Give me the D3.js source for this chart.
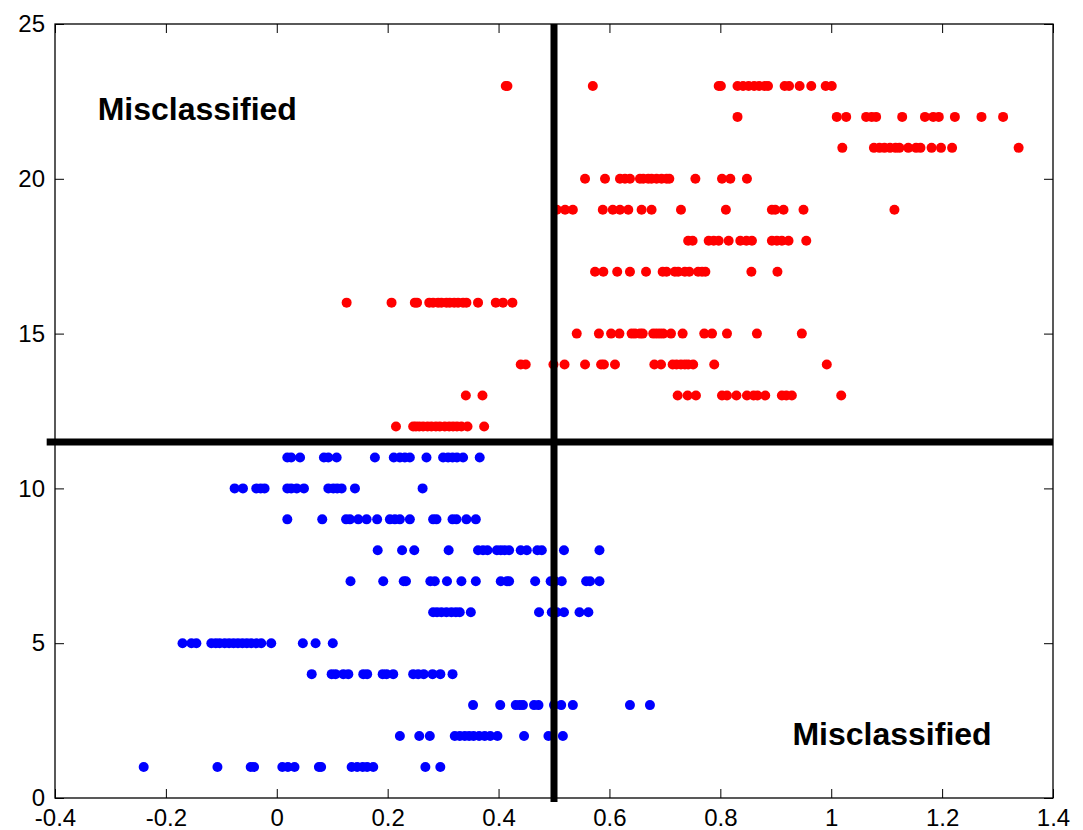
<!DOCTYPE html>
<html>
<head>
<meta charset="utf-8">
<script src="https://cdn.jsdelivr.net/npm/d3@7"></script>
<style>
  html, body { margin: 0; padding: 0; background: #fff; }
  svg { display: block; }
  text { font-family: "Liberation Sans", Arial, sans-serif; }
</style>
</head>
<body>
<svg id="chart" width="1083" height="830"></svg>
<script>
// Class labels (row index on the y axis) and the scores along x for each row
const redLevels = [12, 13, 14, 15, 16, 17, 18, 19, 20, 21, 22, 23];
const redScores = [
  [0.215, 0.246, 0.251, 0.257, 0.264, 0.272, 0.279, 0.287, 0.294, 0.303, 0.311, 0.318, 0.325, 0.333, 0.344, 0.374],
  [0.341, 0.371, 0.723, 0.741, 0.756, 0.803, 0.812, 0.829, 0.848, 0.860, 0.867, 0.881, 0.911, 0.919, 0.929, 1.018],
  [0.440, 0.449, 0.499, 0.519, 0.556, 0.585, 0.590, 0.610, 0.681, 0.693, 0.714, 0.721, 0.729, 0.736, 0.742, 0.751, 0.789, 0.992],
  [0.541, 0.581, 0.603, 0.618, 0.640, 0.646, 0.655, 0.660, 0.679, 0.685, 0.691, 0.697, 0.711, 0.732, 0.771, 0.785, 0.812, 0.866, 0.947],
  [0.126, 0.207, 0.249, 0.253, 0.275, 0.282, 0.291, 0.297, 0.306, 0.312, 0.320, 0.327, 0.336, 0.342, 0.363, 0.395, 0.408, 0.425],
  [0.574, 0.589, 0.614, 0.637, 0.666, 0.696, 0.703, 0.718, 0.724, 0.736, 0.744, 0.760, 0.767, 0.773, 0.856, 0.903],
  [0.742, 0.750, 0.779, 0.788, 0.797, 0.815, 0.836, 0.847, 0.857, 0.893, 0.902, 0.911, 0.923, 0.955],
  [0.505, 0.520, 0.534, 0.588, 0.606, 0.619, 0.634, 0.658, 0.676, 0.729, 0.810, 0.893, 0.899, 0.914, 0.950, 1.114],
  [0.556, 0.592, 0.619, 0.628, 0.637, 0.655, 0.661, 0.670, 0.676, 0.685, 0.694, 0.703, 0.708, 0.755, 0.803, 0.818, 0.848],
  [1.020, 1.077, 1.087, 1.096, 1.106, 1.116, 1.123, 1.139, 1.153, 1.161, 1.181, 1.198, 1.218, 1.338],
  [0.831, 1.010, 1.027, 1.063, 1.073, 1.081, 1.128, 1.169, 1.184, 1.194, 1.223, 1.271, 1.310],
  [0.413, 0.416, 0.570, 0.797, 0.801, 0.831, 0.841, 0.851, 0.861, 0.870, 0.880, 0.886, 0.916, 0.924, 0.943, 0.964, 0.990, 1.001]
];

const blueLevels = [1, 2, 3, 4, 5, 6, 7, 8, 9, 10, 11];
const blueScores = [
  [-0.240, -0.107, -0.047, -0.041, 0.010, 0.020, 0.032, 0.076, 0.080, 0.135, 0.145, 0.155, 0.163, 0.174, 0.268, 0.295],
  [0.222, 0.257, 0.276, 0.321, 0.330, 0.339, 0.347, 0.355, 0.365, 0.375, 0.385, 0.398, 0.446, 0.490, 0.516],
  [0.354, 0.403, 0.431, 0.438, 0.444, 0.464, 0.472, 0.500, 0.513, 0.534, 0.637, 0.673],
  [0.063, 0.099, 0.106, 0.120, 0.129, 0.156, 0.163, 0.191, 0.198, 0.210, 0.246, 0.255, 0.265, 0.281, 0.295, 0.317],
  [-0.170, -0.154, -0.145, -0.118, -0.110, -0.103, -0.094, -0.086, -0.078, -0.070, -0.062, -0.054, -0.046, -0.037, -0.028, -0.010, 0.047, 0.070, 0.101],
  [0.282, 0.289, 0.297, 0.306, 0.315, 0.323, 0.330, 0.350, 0.473, 0.496, 0.505, 0.518, 0.546, 0.562],
  [0.133, 0.192, 0.229, 0.233, 0.277, 0.285, 0.307, 0.333, 0.359, 0.404, 0.415, 0.419, 0.466, 0.494, 0.502, 0.514, 0.558, 0.565, 0.582],
  [0.182, 0.226, 0.248, 0.310, 0.363, 0.372, 0.380, 0.397, 0.404, 0.411, 0.419, 0.440, 0.451, 0.470, 0.478, 0.518, 0.582],
  [0.019, 0.082, 0.125, 0.132, 0.147, 0.162, 0.181, 0.204, 0.213, 0.222, 0.240, 0.282, 0.288, 0.317, 0.324, 0.342, 0.359],
  [-0.076, -0.061, -0.037, -0.029, -0.022, 0.019, 0.026, 0.036, 0.049, 0.093, 0.102, 0.109, 0.117, 0.141, 0.263],
  [0.019, 0.026, 0.042, 0.085, 0.093, 0.108, 0.177, 0.211, 0.222, 0.231, 0.240, 0.270, 0.300, 0.309, 0.317, 0.325, 0.336, 0.366]
];

// Decision boundaries
const scoreThreshold = 0.5;
const classThreshold = 11.5;

// Axis ticks
const xTicks = [-0.4, -0.2, 0, 0.2, 0.4, 0.6, 0.8, 1, 1.2, 1.4];
const yTicks = [0, 5, 10, 15, 20, 25];

// Region annotations: [x, y, label]
const annotations = [
  [-0.323, 21.9, "Misclassified"],
  [0.93, 1.7, "Misclassified"]
];

const xDomain = [-0.4, 1.4];
const yDomain = [0, 25];

const margin = { left: 55, right: 30, top: 24, bottom: 32 };
const width = 1083, height = 830;

const svg = d3.select("#chart");
svg.append("rect").attr("width", width).attr("height", height).attr("fill", "#fff");

const x = d3.scaleLinear().domain(xDomain).range([margin.left, width - margin.right]);
const y = d3.scaleLinear().domain(yDomain).range([height - margin.bottom, margin.top]);

const toPoints = (levels, scores) =>
  levels.flatMap((lv, i) => scores[i].map(s => ({ x: s, y: lv })));

const markerR = 5;

// scatter markers
svg.append("g").selectAll("circle")
  .data(toPoints(redLevels, redScores))
  .join("circle")
  .attr("cx", d => x(d.x)).attr("cy", d => y(d.y)).attr("r", markerR)
  .attr("fill", "#ff0000");

svg.append("g").selectAll("circle")
  .data(toPoints(blueLevels, blueScores))
  .join("circle")
  .attr("cx", d => x(d.x)).attr("cy", d => y(d.y)).attr("r", markerR)
  .attr("fill", "#0000ff");

// axes with inward ticks on all four sides
const tickLen = 9;
const fmtX = d => (d === 0 ? "0" : String(+d.toFixed(1)));

const xAxisB = d3.axisBottom(x).tickValues(xTicks).tickFormat(fmtX)
  .tickSizeInner(-tickLen).tickSizeOuter(0).tickPadding(11);
const xAxisT = d3.axisTop(x).tickValues(xTicks).tickFormat("")
  .tickSizeInner(-tickLen).tickSizeOuter(0);
const yAxisL = d3.axisLeft(y).tickValues(yTicks).tickFormat(d3.format("d"))
  .tickSizeInner(-tickLen).tickSizeOuter(0).tickPadding(10);
const yAxisR = d3.axisRight(y).tickValues(yTicks).tickFormat("")
  .tickSizeInner(-tickLen).tickSizeOuter(0);

function styleAxis(g) {
  g.select(".domain").remove();
  g.selectAll(".tick line").attr("stroke", "#000").attr("stroke-width", 1);
  g.selectAll(".tick text").attr("fill", "#000")
    .style("font-size", "24px")
    .style("font-family", '"Liberation Sans", Arial, sans-serif');
}

svg.append("g").attr("transform", `translate(0,${y(yDomain[0])})`).call(xAxisB).call(styleAxis);
svg.append("g").attr("transform", `translate(0,${y(yDomain[1])})`).call(xAxisT).call(styleAxis);
svg.append("g").attr("transform", `translate(${x(xDomain[0])},0)`).call(yAxisL).call(styleAxis);
svg.append("g").attr("transform", `translate(${x(xDomain[1])},0)`).call(yAxisR).call(styleAxis);

// plot frame
svg.append("rect")
  .attr("x", x(xDomain[0])).attr("y", y(yDomain[1]))
  .attr("width", x(xDomain[1]) - x(xDomain[0]))
  .attr("height", y(yDomain[0]) - y(yDomain[1]))
  .attr("fill", "none").attr("stroke", "#000").attr("stroke-width", 1.3);

// threshold lines
svg.append("line")
  .attr("x1", x(scoreThreshold)).attr("x2", x(scoreThreshold))
  .attr("y1", y(25)).attr("y2", y(-0.13))
  .attr("stroke", "#000").attr("stroke-width", 7);

svg.append("line")
  .attr("x1", x(-0.415)).attr("x2", x(1.4))
  .attr("y1", y(classThreshold)).attr("y2", y(classThreshold))
  .attr("stroke", "#000").attr("stroke-width", 7);

// region annotations
svg.append("g").selectAll("text")
  .data(annotations)
  .join("text")
  .attr("x", d => x(d[0])).attr("y", d => y(d[1]))
  .attr("font-size", 32).attr("font-weight", "bold").attr("fill", "#000")
  .text(d => d[2]);
</script>
</body>
</html>
